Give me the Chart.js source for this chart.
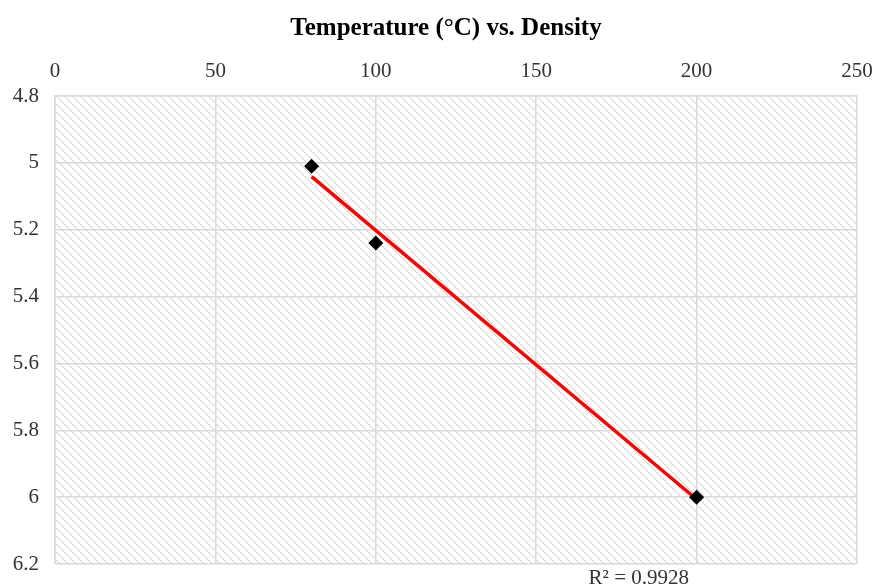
<!DOCTYPE html>
<html>
<head>
<meta charset="utf-8">
<script src="https://cdn.jsdelivr.net/npm/chart.js@4.4.1/dist/chart.umd.min.js"></script>
<style>
  html, body { margin: 0; padding: 0; background: #fff; }
  #wrap { width: 872px; height: 588px; }
</style>
</head>
<body>
<div id="wrap"><canvas id="chart" width="872" height="588"></canvas></div>
<script>
// data
const temperature = [80, 100, 200];
const density = [5.01, 5.24, 6.0];
const xTicks = [0, 50, 100, 150, 200, 250];
const yTicks = [4.8, 5, 5.2, 5.4, 5.6, 5.8, 6, 6.2];
const titleText = 'Temperature (\u00B0C) vs. Density';
const r2Text = 'R\u00B2 = 0.9928';

// linear trendline through the points
function fitLine(xs, ys) {
    let n = xs.length;
    let mx = xs.reduce((a, b) => a + b, 0) / n;
    let my = ys.reduce((a, b) => a + b, 0) / n;
    let sxy = 0, sxx = 0;
    for (let i = 0; i < n; i++) {
        sxy += (xs[i] - mx) * (ys[i] - my);
        sxx += (xs[i] - mx) * (xs[i] - mx);
    }
    let slope = sxy / sxx;
    return x => my + slope * (x - mx);
}
const trend = fitLine(temperature, density);
const xMin = Math.min(...temperature), xMax = Math.max(...temperature);
const trendPoints = [{x: xMin, y: trend(xMin)}, {x: xMax, y: trend(xMax)}];
const points = temperature.map((t, i) => ({x: t, y: density[i]}));

// hatched background of the plot area
function makeHatch() {
    let c = document.createElement('canvas');
    c.width = 8; c.height = 8;
    let g = c.getContext('2d');
    g.fillStyle = '#ffffff';
    g.fillRect(0, 0, 8, 8);
    g.fillStyle = '#dadada';
    for (let y = 0; y < 8; y++) {
        for (let x = 0; x < 8; x++) {
            let d = ((x - y) % 8 + 8) % 8;
            if ((d === 0 || d === 1) && ((x + y) % 4 < 3)) g.fillRect(x, y, 1, 1);
        }
    }
    return c;
}

const serif = "'Liberation Serif', 'Times New Roman', serif";

const bgPlugin = {
    id: 'bgHatch',
    beforeDraw(chart) {
        let ctx = chart.ctx, a = chart.chartArea;
        ctx.save();
        ctx.fillStyle = ctx.createPattern(makeHatch(), 'repeat');
        ctx.fillRect(a.left, a.top, a.right - a.left, a.bottom - a.top);
        ctx.restore();
    },
    afterDraw(chart) {
        let ctx = chart.ctx, a = chart.chartArea;
        ctx.save();
        ctx.fillStyle = '#000';
        ctx.font = 'bold 25px ' + serif;
        ctx.textAlign = 'center';
        ctx.textBaseline = 'middle';
        ctx.fillText(titleText, 446, 29);
        ctx.font = '21px ' + serif;
        ctx.fillStyle = '#333';
        ctx.textAlign = 'left';
        ctx.fillText(r2Text, chart.scales.x.getPixelForValue(200) - 108, a.bottom + 14);
        ctx.restore();
    }
};

new Chart(document.getElementById('chart'), {
    type: 'scatter',
    data: {
        datasets: [
            {
                label: 'Density',
                data: points,
                pointStyle: 'rectRot',
                pointRadius: 7.5,
                pointHoverRadius: 7.5,
                backgroundColor: '#000',
                borderColor: '#000',
                borderWidth: 0,
                order: 0
            },
            {
                label: 'Trend',
                type: 'line',
                data: trendPoints,
                borderColor: '#ff0000',
                borderWidth: 3.5,
                pointRadius: 0,
                fill: false,
                order: 1
            }
        ]
    },
    plugins: [bgPlugin],
    options: {
        responsive: false,
        animation: false,
        layout: { padding: { left: 0, right: 15, top: 0, bottom: 24 } },
        plugins: {
            legend: { display: false },
            title: { display: false },
            tooltip: { enabled: false }
        },
        scales: {
            x: {
                type: 'linear',
                position: 'top',
                min: 0,
                max: 250,
                afterBuildTicks: s => { s.ticks = xTicks.map(v => ({value: v})); },
                afterFit: s => { s.height = 96; s.paddingLeft = 0; s.paddingRight = 0; },
                grid: { color: '#d9d9d9', lineWidth: 1.5, drawTicks: false },
                border: { color: '#d9d9d9', width: 1.5 },
                ticks: {
                    color: '#333',
                    font: { family: serif, size: 21 },
                    padding: 12,
                    maxRotation: 0
                }
            },
            y: {
                type: 'linear',
                reverse: true,
                min: 4.8,
                max: 6.2,
                afterBuildTicks: s => { s.ticks = yTicks.map(v => ({value: v})); },
                afterFit: s => { s.width = 55; s.paddingTop = 0; s.paddingBottom = 0; },
                grid: { color: '#d9d9d9', lineWidth: 1.5, drawTicks: false },
                border: { color: '#d9d9d9', width: 1.5 },
                ticks: {
                    color: '#333',
                    font: { family: serif, size: 21 },
                    padding: 16,
                    callback: v => String(+(+v).toFixed(1))
                }
            }
        }
    }
});
</script>
</body>
</html>
